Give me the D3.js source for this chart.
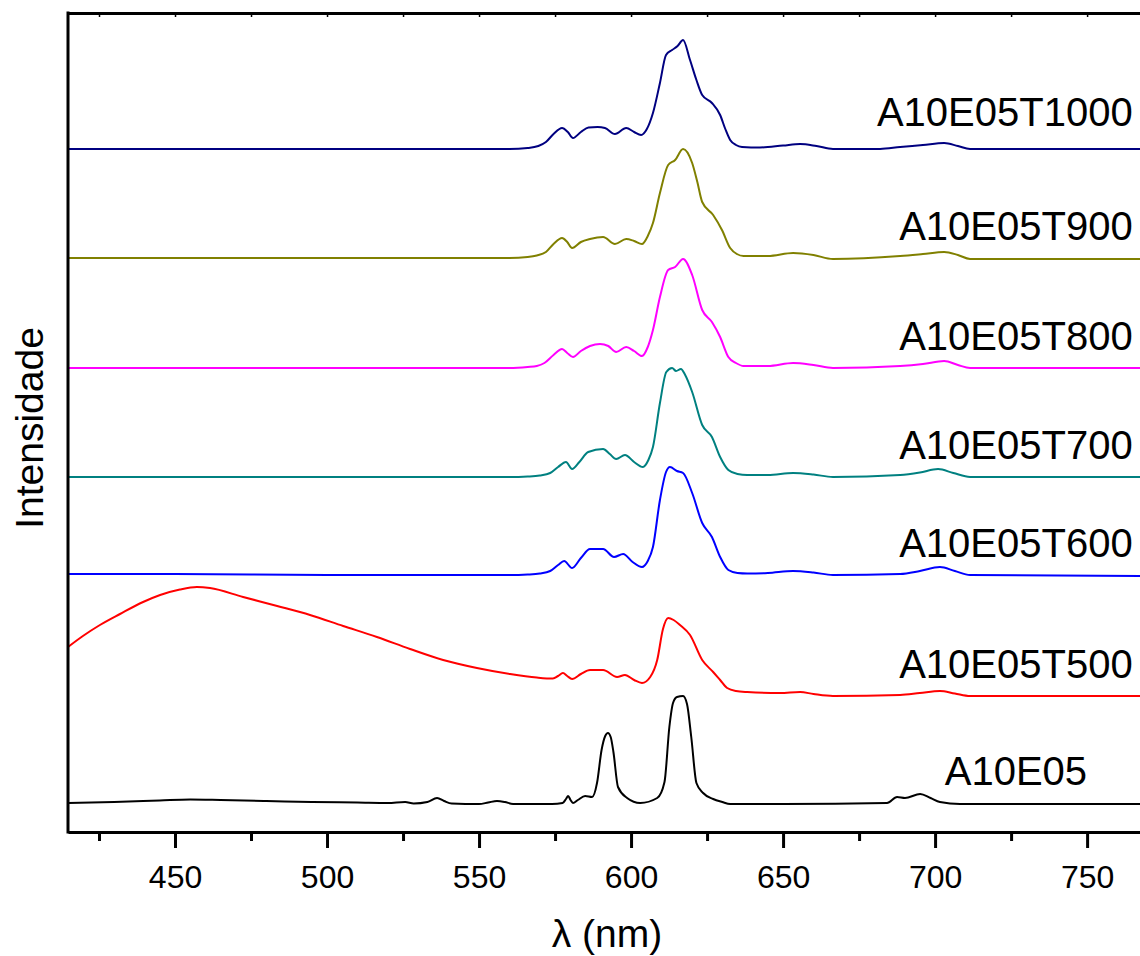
<!DOCTYPE html>
<html>
<head>
<meta charset="utf-8">
<script src="https://cdn.jsdelivr.net/npm/d3@7"></script>
<style>
  body { margin: 0; background: #fff; }
  svg { display: block; font-family: "Liberation Sans", Arial, sans-serif; }
</style>
</head>
<body>
<svg id="chart" width="1140" height="956"></svg>
<script>
// data (wavelength nm, stacked intensity a.u.) -------------------------

var A10E05 = [[414.8, 29], [430, 30], [445, 31.5], [455, 32.5], [465, 32], [480, 31], [495, 30], [510, 29.5], [520, 29],
  [525.7, 30], [528.5, 28.5], [533, 30], [536.2, 34], [538.5, 31], [541, 28.5], [550, 28], [553, 29.5], [555.9, 31], [558.5, 30],
  [561.2, 28], [574, 28], [577.5, 29], [578.6, 33], [579.3, 36], [580.1, 32], [580.9, 29], [582.5, 32],
  [584.9, 36], [587.2, 35], [588.8, 49], [590.3, 82], [591.5, 96], [592.4, 99], [593.3, 95], [594.2, 80], [595.7, 45], [598.7, 34],
  [603.0, 29], [608.6, 34], [611.0, 50], [612.6, 105], [613.8, 129], [615.1, 135], [617.1, 136], [618.4, 128], [619.8, 95],
  [621.5, 49], [623.7, 39], [627.0, 33], [630, 30], [632.6, 28], [650, 28], [684.2, 29], [687.5, 35], [690.1, 34], [695.1, 38],
  [698.5, 34], [701.6, 30], [708.2, 28], [767.4, 28]];

var A10E05T500 = [[414.8, 185], [419.7, 196], [425.3, 207], [431.9, 218], [439.5, 230], [445.1, 237], [451.6, 242.5],
  [457.2, 245], [461.5, 244], [472.4, 235], [483.6, 226], [494.4, 217], [505.3, 206], [516.4, 195], [527.3, 183], [538.2, 172],
  [549.3, 164], [560.2, 158], [569, 154.5], [574.3, 153.5], [576, 156], [577.6, 159], [579, 156], [580.6, 153], [583.5, 158],
  [586.5, 162], [590.8, 162], [595.4, 155], [598.0, 157], [601, 152], [603.6, 149], [606.3, 155], [608.6, 172], [610.5, 203],
  [612.2, 214], [614, 212], [616.1, 207], [619.4, 197], [623.4, 172], [627.0, 160], [629.3, 152], [631.6, 144], [634.5, 141],
  [638.2, 140], [649.0, 139], [655.6, 140], [660, 138], [666.4, 136], [688.5, 137], [695, 139], [701.6, 141], [706.5, 138.5],
  [711.5, 136], [767.4, 136]];

var A10E05T600 = [[414.8, 258], [450, 258], [500, 257], [560, 257], [566, 257.5], [570, 258.5], [573.4, 261], [576, 267],
  [578.0, 271], [580.6, 264], [583.5, 274], [586.5, 283], [590.8, 283], [594.4, 275], [597.4, 278], [600.5, 270], [603.6, 265],
  [605.5, 271], [607.2, 285], [609.5, 332], [611.5, 360], [612.8, 365], [615.1, 361], [617.1, 359], [620.1, 339], [623.4, 309],
  [626.6, 295], [629.3, 275], [632.0, 262], [635, 259], [638.2, 258.5], [645, 259], [653.3, 261], [660, 259.5], [666.4, 257],
  [688.5, 258], [695, 261], [701.6, 265], [706.5, 261], [711.5, 257], [767.4, 256]];

var A10E05T700 = [[414.8, 355], [560, 355], [566, 355.5], [570, 356.5], [573.4, 359], [576, 365], [578.6, 370], [580.6, 363],
  [583, 370], [585.9, 380], [590.8, 383], [593, 378], [595.1, 373], [598.0, 377], [601, 370], [603.9, 365], [605.7, 372],
  [607.2, 385], [609.5, 429], [611.6, 460], [613.5, 464], [614.8, 461], [616.4, 463], [617.8, 457], [620.1, 440], [623.4, 407],
  [626.6, 395], [629.3, 375], [632.0, 362], [635, 358], [638.2, 357], [645, 357], [653.3, 359], [660, 357.5], [666.4, 355],
  [688.5, 357], [695, 359.5], [701.0, 363], [706, 359], [711.5, 355], [767.4, 355]];

var A10E05T800 = [[414.8, 464], [560, 464], [566, 465], [569, 466], [571.5, 469], [574.5, 477], [577.3, 483], [579, 479],
  [580.9, 475], [583.5, 481], [586.5, 486], [589.8, 488], [592.5, 486], [595.1, 480], [598.4, 485], [601, 481], [603.6, 476],
  [605.5, 485], [607.2, 502], [609.5, 535], [612.2, 562], [614.5, 565], [617.1, 573], [620.1, 557], [623.4, 522], [626.6, 510],
  [629.3, 495], [632.0, 475], [634.5, 469], [637, 466], [645, 466], [653.3, 469], [660, 467], [666.4, 464], [688.5, 466],
  [696, 468], [703.0, 471], [707.5, 467], [711.5, 464], [767.4, 464]];

var A10E05T900 = [[414.8, 574], [560, 574], [566, 575], [569, 576.5], [572, 580], [574.5, 588], [577.3, 594], [579, 590],
  [580.6, 584], [583.5, 590], [586.5, 593], [590.8, 595], [594.7, 588], [598.4, 593], [601, 591], [603.6, 588], [605.5, 596],
  [607.2, 609], [609.5, 639], [612.2, 667], [614.5, 672], [617.1, 683], [620.1, 669], [621.8, 650], [623.4, 630], [627.0, 617],
  [629.9, 602], [632.6, 584], [634.8, 578], [637, 576], [645, 576], [653.3, 579], [660, 577], [666.4, 573], [688.5, 576],
  [696, 578], [703.0, 580], [707.5, 577], [711.5, 573], [767.4, 573]];

var A10E05T1000 = [[414.8, 683], [500, 683], [560, 683], [566, 684], [569.5, 686], [572, 690], [574.5, 698], [577.3, 704],
  [579.2, 700], [580.9, 694], [583.5, 700], [586, 704.5], [589, 705], [591.4, 704], [594.7, 698], [598.4, 704], [601, 700],
  [603.3, 697], [605.2, 703], [607.2, 719], [609.5, 749], [611.5, 777], [613.5, 782], [615.3, 786], [617.1, 792], [619.4, 772],
  [621.5, 752], [623.4, 737], [626.6, 729], [629.3, 717], [631, 703], [632.6, 692], [634.5, 687], [636.5, 685], [642.4, 684.5],
  [650, 686.5], [655.6, 688], [661, 686], [666.4, 683], [681.9, 683], [688.5, 685], [696, 687], [703.0, 689], [707.5, 686],
  [711.5, 683], [767.4, 683]];

var series_names = ["A10E05", "A10E05T500", "A10E05T600", "A10E05T700", "A10E05T800", "A10E05T900", "A10E05T1000"];
var series_data = [A10E05, A10E05T500, A10E05T600, A10E05T700, A10E05T800, A10E05T900, A10E05T1000];
var series_color = ["#000000", "#FF0000", "#0000FF", "#008080", "#FF00FF", "#808000", "#000080"];

// label anchors (right end of text) in data units
var label_x = [750, 765, 765, 765, 765, 765, 765];
var label_y = [47, 154, 275, 373, 482, 592, 706];

var major_ticks = [450, 500, 550, 600, 650, 700, 750];
var minor_ticks = [425, 475, 525, 575, 625, 675, 725];
var all_ticks = [425, 450, 475, 500, 525, 550, 575, 600, 625, 650, 675, 700, 725, 750];

// graph ----------------------------------------------------------------

var svg = d3.select("#chart");
const padding = { top: 13, left: 68, bottom: 832, right: 1140 };

var x = d3.scaleLinear()
  .domain([414.8, 767.4])
  .range([padding.left, padding.right]);

var y = d3.scaleLinear()
  .domain([0, 819])
  .range([padding.bottom, padding.top]);

var line = d3.line()
  .x(d => x(d[0]))
  .y(d => y(d[1]))
  .curve(d3.curveMonotoneX);

var g = svg.append("g");

g.selectAll("path.spec")
  .data(series_data)
  .enter()
  .append("path")
  .attr("class", "spec")
  .attr("d", line)
  .attr("fill", "none")
  .attr("stroke", (_, i) => series_color[i])
  .attr("stroke-width", 2)
  .attr("stroke-linejoin", "round");

g.selectAll("text.lbl")
  .data(series_names)
  .enter()
  .append("text")
  .attr("class", "lbl")
  .attr("x", (_, i) => x(label_x[i]))
  .attr("y", (_, i) => y(label_y[i]))
  .attr("text-anchor", "end")
  .attr("font-size", 40)
  .attr("fill", "#000")
  .text(d => d);

// axes -----------------------------------------------------------------

// bottom minor ticks
svg.append("g")
  .attr("transform", `translate(0,${padding.bottom})`)
  .call(d3.axisBottom(x).tickValues(minor_ticks).tickSize(9).tickSizeOuter(0).tickFormat(""))
  .call(a => a.select(".domain").remove())
  .call(a => a.selectAll("line").attr("stroke-width", 3));

// bottom major ticks + labels
svg.append("g")
  .attr("transform", `translate(0,${padding.bottom})`)
  .call(d3.axisBottom(x).tickValues(major_ticks).tickSize(16).tickSizeOuter(0).tickPadding(17))
  .call(a => a.select(".domain").attr("stroke-width", 3))
  .call(a => a.selectAll("line").attr("stroke-width", 3))
  .call(a => a.selectAll("text").attr("font-size", 32).attr("font-family", "Liberation Sans, Arial, sans-serif").attr("fill", "#000"));

// top axis, small inward ticks
svg.append("g")
  .attr("transform", `translate(0,${padding.top})`)
  .call(d3.axisTop(x).tickValues(all_ticks).tickSize(-4).tickSizeOuter(0).tickFormat(""))
  .call(a => a.select(".domain").attr("stroke-width", 3))
  .call(a => a.selectAll("line").attr("stroke-width", 1.5));

// left axis line (no ticks)
svg.append("line")
  .attr("x1", padding.left).attr("x2", padding.left)
  .attr("y1", padding.top - 1.5).attr("y2", padding.bottom + 1.5)
  .attr("stroke", "#000")
  .attr("stroke-width", 3);

// titles
svg.append("text")
  .attr("x", (padding.left + padding.right) / 2 + 3)
  .attr("y", 947)
  .attr("text-anchor", "middle")
  .attr("font-size", 39)
  .text("λ (nm)");

svg.append("text")
  .attr("transform", `translate(43,428) rotate(-90)`)
  .attr("text-anchor", "middle")
  .attr("font-size", 39)
  .text("Intensidade");
</script>
</body>
</html>
